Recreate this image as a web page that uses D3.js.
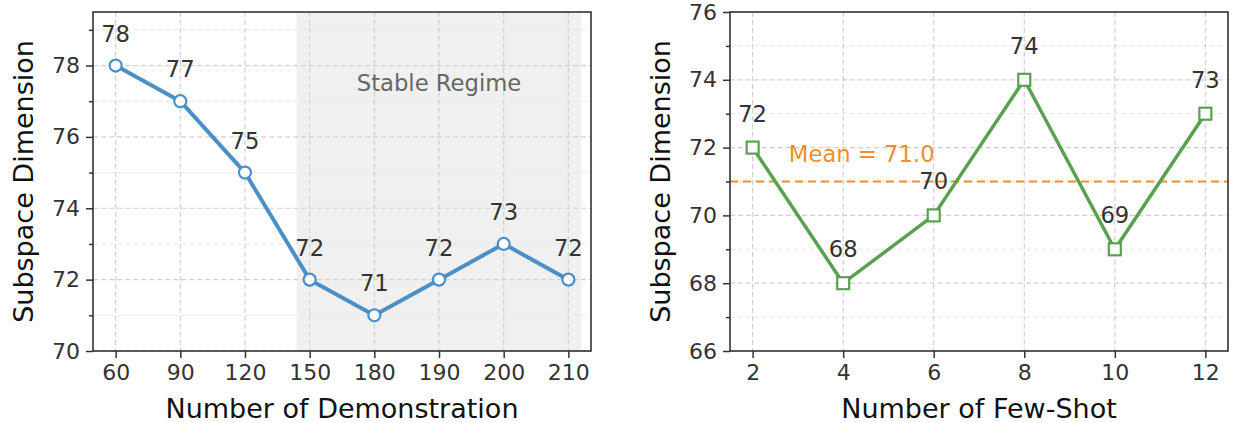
<!DOCTYPE html>
<html><head><meta charset="utf-8">
<script src="https://cdn.jsdelivr.net/npm/d3@7"></script>
<style>
html,body{margin:0;padding:0;background:#fff;}
svg{display:block;font-family:"DejaVu Sans",sans-serif;}
</style></head>
<body>
<svg id="c" width="1233" height="423"></svg>
<script>
// Data
const demoCategories = ["60","90","120","150","180","190","200","210"];
const demoValues = [78,77,75,72,71,72,73,72];
const fewShotX = [2,4,6,8,10,12];
const fewShotValues = [72,68,70,74,69,73];
const leftYTicks = [70,72,74,76,78];
const leftYMinor = [71,73,75,77,79];
const rightYTicks = [66,68,70,72,74,76];
const rightYMinor = [67,69,71,73,75];
const stableLabel = "Stable Regime";
const xLabelLeft = "Number of Demonstration";
const xLabelRight = "Number of Few-Shot";
const yLabel = "Subspace Dimension";

const svg = d3.select("#c");
const dark = "#333333";
const tickFont = 22, annFont = 22.7, labFont = 27;

function panel(cfg){
  const g = svg.append("g");
  const {x, y, L, R, T, B} = cfg;
  if (cfg.under) cfg.under(g);
  // grid
  g.append("g").selectAll("line").data(cfg.yMinor).join("line")
    .attr("x1", L).attr("x2", R).attr("y1", d=>y(d)).attr("y2", d=>y(d))
    .attr("stroke", "#e6e6e6").attr("stroke-width", 1).attr("stroke-dasharray","5,3");
  g.append("g").selectAll("line").data(cfg.yTicks).join("line")
    .attr("x1", L).attr("x2", R).attr("y1", d=>y(d)).attr("y2", d=>y(d))
    .attr("stroke", "#d0d0d0").attr("stroke-width", 1.2).attr("stroke-dasharray","5,3");
  g.append("g").selectAll("line").data(cfg.xTickPos).join("line")
    .attr("x1", d=>d).attr("x2", d=>d).attr("y1", T).attr("y2", B)
    .attr("stroke", "#d0d0d0").attr("stroke-width", 1.2).attr("stroke-dasharray","5,3");
  if (cfg.over) cfg.over(g);
  // axes
  const yAxis = g.append("g").attr("transform", `translate(${L},0)`)
    .call(d3.axisLeft(y).tickValues(cfg.yTicks).tickSize(7).tickPadding(6).tickFormat(d3.format("d")));
  const yMin = g.append("g").attr("transform", `translate(${L},0)`)
    .call(d3.axisLeft(y).tickValues(cfg.yMinor).tickSize(4).tickFormat(""));
  const xAxis = g.append("g").attr("transform", `translate(0,${B})`)
    .call(cfg.xAxis);
  [yAxis, yMin, xAxis].forEach(a=>{
    a.select(".domain").remove();
    a.selectAll(".tick line").attr("stroke", dark).attr("stroke-width", 1.5);
    a.selectAll(".tick text").attr("fill", dark).attr("font-size", tickFont)
      .attr("font-family", '"DejaVu Sans",sans-serif');
  });
  // frame
  g.append("rect").attr("x", L).attr("y", T).attr("width", R-L).attr("height", B-T)
    .attr("fill","none").attr("stroke", dark).attr("stroke-width", 1.6);
  // labels
  g.append("text").attr("x", (L+R)/2).attr("y", 418).attr("text-anchor","middle")
    .attr("font-size", labFont).attr("fill","#111").text(cfg.xLabel);
  g.append("text").attr("transform", `translate(${cfg.yLabelX},${(T+B)/2}) rotate(-90)`)
    .attr("text-anchor","middle").attr("dominant-baseline","central")
    .attr("font-size", labFont).attr("fill","#111").text(yLabel);
  return g;
}

// LEFT PANEL
(function(){
  const L=93, R=591, T=12, B=351;
  const xi = d3.scaleLinear().domain([-0.35, demoCategories.length-1+0.35]).range([L,R]);
  const y = d3.scaleLinear().domain([70, 79.5]).range([B,T]);
  const idx = demoCategories.map((d,i)=>i);
  const xAxis = d3.axisBottom(xi).tickValues(idx).tickSize(7).tickPadding(6)
    .tickFormat(i=>demoCategories[i]);
  const g = panel({x:xi, y, L, R, T, B, yTicks:leftYTicks, yMinor:leftYMinor,
    xTickPos: idx.map(i=>xi(i)), xAxis, xLabel:xLabelLeft, yLabelX:23,
    under: g=>{
      g.append("rect").attr("x", xi(2.8)).attr("y", T).attr("width", xi(7.2)-xi(2.8))
        .attr("height", B-T).attr("fill","#f0f0f0");
    },
    over: g=>{
      g.append("text").attr("x", xi(5)).attr("y", y(77.5)).attr("text-anchor","middle")
        .attr("dominant-baseline","central").attr("font-size", annFont).attr("fill","#666")
        .text(stableLabel);
    }
  });
  const color = "#4A90C7";
  const line = d3.line().x((d,i)=>xi(i)).y(d=>y(d));
  g.append("path").datum(demoValues).attr("d", line).attr("fill","none")
    .attr("stroke", color).attr("stroke-width", 4).attr("stroke-linejoin","round");
  g.append("g").selectAll("circle").data(demoValues).join("circle")
    .attr("cx",(d,i)=>xi(i)).attr("cy", d=>y(d)).attr("r", 6)
    .attr("fill","#fff").attr("stroke", color).attr("stroke-width", 2.2);
  g.append("g").selectAll("text").data(demoValues).join("text")
    .attr("x",(d,i)=>xi(i)).attr("y", d=>y(d)-24).attr("text-anchor","middle")
    .attr("font-size", annFont).attr("fill", dark).text(d=>d);
})();

// RIGHT PANEL
(function(){
  const L=730, R=1228, T=12, B=351;
  const x = d3.scaleLinear().domain([1.5, 12.5]).range([L,R]);
  const y = d3.scaleLinear().domain([66, 76]).range([B,T]);
  const xAxis = d3.axisBottom(x).tickValues(fewShotX).tickSize(7).tickPadding(6)
    .tickFormat(d3.format("d"));
  const mean = d3.mean(fewShotValues);
  const g = panel({x, y, L, R, T, B, yTicks:rightYTicks, yMinor:rightYMinor,
    xTickPos: fewShotX.map(d=>x(d)), xAxis, xLabel:xLabelRight, yLabelX:660,
    over: g=>{
      g.append("line").attr("x1", L).attr("x2", R).attr("y1", y(mean)).attr("y2", y(mean))
        .attr("stroke","#F28E2B").attr("stroke-width", 2).attr("stroke-dasharray","8,5");
      g.append("text").attr("x", x(2.8)).attr("y", y(mean+0.5)-3)
        .attr("font-size", annFont).attr("fill","#F28E2B")
        .text("Mean = " + mean.toFixed(1));
    }
  });
  const color = "#59A14F";
  const line = d3.line().x((d,i)=>x(fewShotX[i])).y(d=>y(d));
  g.append("path").datum(fewShotValues).attr("d", line).attr("fill","none")
    .attr("stroke", color).attr("stroke-width", 3.5).attr("stroke-linejoin","round");
  const s = 12;
  g.append("g").selectAll("rect").data(fewShotValues).join("rect")
    .attr("x",(d,i)=>x(fewShotX[i])-s/2).attr("y", d=>y(d)-s/2)
    .attr("width", s).attr("height", s)
    .attr("fill","#fff").attr("stroke", color).attr("stroke-width", 2.2);
  g.append("g").selectAll("text").data(fewShotValues).join("text")
    .attr("x",(d,i)=>x(fewShotX[i])).attr("y", d=>y(d)-26).attr("text-anchor","middle")
    .attr("font-size", annFont).attr("fill", dark).text(d=>d);
})();
</script>
</body></html>
